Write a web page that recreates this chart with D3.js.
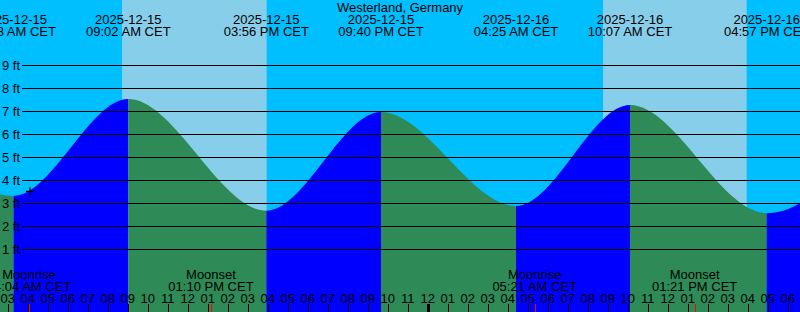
<!DOCTYPE html>
<html><head><meta charset="utf-8">
<script src="https://cdn.jsdelivr.net/npm/d3@7"></script>
<style>
html,body{margin:0;padding:0;background:#00BFFF;}
svg{display:block;}
text{font-family:"Liberation Sans",Arial,sans-serif;font-size:13px;fill:#000;}
</style></head>
<body>
<svg id="chart" width="800" height="312"></svg>
<script>
// ---- data ----
const title = "Westerland, Germany";
const viewStart = "2025-12-15T02:37";
const viewEnd = "2025-12-16T18:37";
// tide extremes (first and last lie outside the view)
const tideTimes = ["2025-12-14T20:55","2025-12-15T03:18","2025-12-15T09:02","2025-12-15T15:56","2025-12-15T21:40","2025-12-16T04:25","2025-12-16T10:07","2025-12-16T16:57","2025-12-16T23:05"];
const tideHeights = [7.1, 3.32, 7.53, 2.68, 6.97, 2.88, 7.27, 2.57, 6.9];
const tideLabelDates = ["2025-12-15","2025-12-15","2025-12-15","2025-12-15","2025-12-16","2025-12-16","2025-12-16"];
const tideLabelTimes = ["03:18 AM CET","09:02 AM CET","03:56 PM CET","09:40 PM CET","04:25 AM CET","10:07 AM CET","04:57 PM CET"];
// daylight
const sunrises = ["2025-12-15T08:43","2025-12-16T08:46"];
const sunsets = ["2025-12-15T15:57","2025-12-16T15:57"];
// moon
const moonTimes = ["2025-12-15T04:04","2025-12-15T13:10","2025-12-16T05:21","2025-12-16T13:21"];
const moonKinds = ["Moonrise","Moonset","Moonrise","Moonset"];
const moonLabels = ["04:04 AM CET","01:10 PM CET","05:21 AM CET","01:21 PM CET"];
// height axis
const heightTicks = [1,2,3,4,5,6,7,8,9];
const markTime = "2025-12-15T04:07";
const markHeight = 3.52;

// ---- drawing ----
const W = 800, H = 312;
const parse = d3.timeParse("%Y-%m-%dT%H:%M");
const x = d3.scaleTime().domain([parse(viewStart), parse(viewEnd)]).range([0, W]);
const y = d3.scaleLinear().domain([0, 10]).range([272.3, 42.3]);
const svg = d3.select("#chart");

// background: night
svg.append("rect").attr("x",0).attr("y",0).attr("width",W).attr("height",H).attr("fill","#00BFFF");
// day bands
svg.selectAll("rect.day").data(sunrises.map((s,i)=>[parse(s),parse(sunsets[i])])).enter()
  .append("rect").attr("class","day")
  .attr("x",d=>x(d[0])).attr("y",0)
  .attr("width",d=>x(d[1])-x(d[0])).attr("height",H)
  .attr("fill","#87CEEB");

// tide area
const pts = tideTimes.map((t,i)=>({t:parse(t), h:tideHeights[i]}));
const area = d3.area().x(d=>x(d.t)).y0(H).y1(d=>y(d.h)).curve(d3.curveMonotoneX);
const defs = svg.append("defs");
for (let i=0;i<pts.length-1;i++){
  const a = pts[i], b = pts[i+1];
  const rising = b.h > a.h;
  defs.append("clipPath").attr("id","seg"+i).append("rect")
    .attr("x", x(a.t)).attr("y",0).attr("width", x(b.t)-x(a.t)).attr("height",H);
  svg.append("path").datum(pts).attr("d",area)
    .attr("fill", rising ? "#0000FF" : "#2E8B57")
    .attr("clip-path","url(#seg"+i+")");
}

// grid lines
svg.selectAll("line.grid").data(heightTicks).enter().append("line")
  .attr("class","grid")
  .attr("x1",22).attr("x2",W)
  .attr("y1",d=>Math.round(y(d))+0.5).attr("y2",d=>Math.round(y(d))+0.5)
  .attr("stroke","#000").attr("stroke-width",1);
svg.selectAll("text.ylab").data(heightTicks).enter().append("text")
  .attr("class","ylab").attr("x",2).attr("y",d=>y(d)+4.5)
  .text(d=>d+" ft");

// title
svg.append("text").attr("x",W/2).attr("y",12).attr("text-anchor","middle").text(title);
// tide labels
const evts = pts.slice(1, pts.length-1);
svg.selectAll("text.tdate").data(evts).enter().append("text")
  .attr("x",d=>x(d.t)).attr("y",24).attr("text-anchor","middle")
  .text((d,i)=>tideLabelDates[i]);
svg.selectAll("text.ttime").data(evts).enter().append("text")
  .attr("x",d=>x(d.t)).attr("y",36).attr("text-anchor","middle")
  .text((d,i)=>tideLabelTimes[i]);

// moon labels
const moons = moonTimes.map(parse);
svg.selectAll("text.mkind").data(moons).enter().append("text")
  .attr("x",d=>x(d)).attr("y",278.5).attr("text-anchor","middle")
  .text((d,i)=>moonKinds[i]);
svg.selectAll("text.mtime").data(moons).enter().append("text")
  .attr("x",d=>x(d)).attr("y",290.5).attr("text-anchor","middle")
  .text((d,i)=>moonLabels[i]);

// hour axis
const hours = x.ticks(d3.timeHour.every(1));
const fmt = d3.timeFormat("%I");
svg.selectAll("text.hour").data(hours).enter().append("text")
  .attr("x",d=>x(d)).attr("y",302.5).attr("text-anchor","middle")
  .text(d=>fmt(d));
svg.selectAll("line.htick").data(hours).enter().append("line")
  .attr("x1",d=>Math.round(x(d))+0.5).attr("x2",d=>Math.round(x(d))+0.5)
  .attr("y1",304).attr("y2",H)
  .attr("stroke","#000")
  .attr("stroke-width",d=>d.getHours()===0?3:1);
svg.selectAll("line.mtick").data(moons).enter().append("line")
  .attr("x1",d=>Math.round(x(d))+0.5).attr("x2",d=>Math.round(x(d))+0.5)
  .attr("y1",304).attr("y2",H)
  .attr("stroke","#FF0000").attr("stroke-width",1);

// plus marker
const mx = x(parse(markTime)), my = y(markHeight);
svg.append("path").attr("d",`M${mx-4},${my}H${mx+4}M${mx},${my-4}V${my+4}`)
  .attr("stroke","#000").attr("stroke-width",1.2).attr("fill","none");
</script>
</body></html>
